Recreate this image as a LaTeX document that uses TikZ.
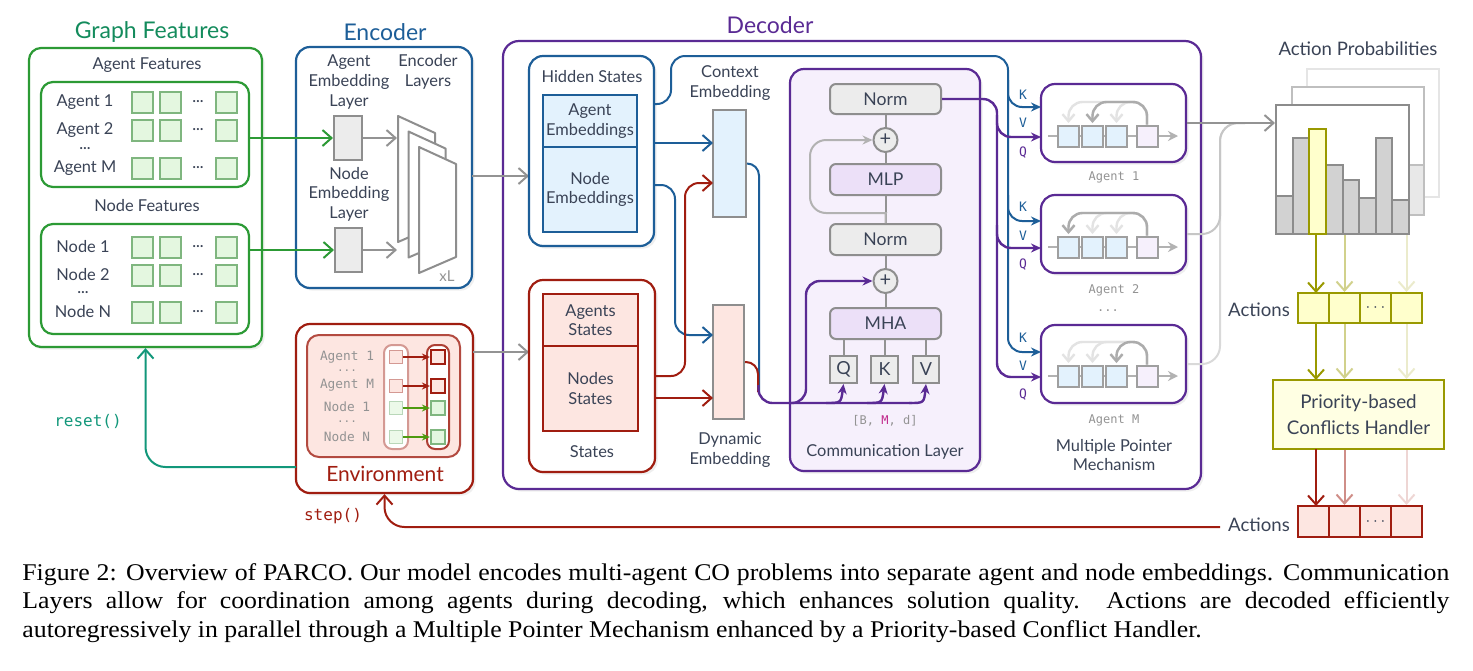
\documentclass[tikz,border=0pt]{standalone}
\usepackage{fontspec}
\setmainfont{Lato}
\setmonofont{DejaVu Sans Mono}
\newfontfamily\capfont[FakeStretch=1.075]{Liberation Serif}
\usetikzlibrary{arrows.meta,shadows}
\definecolor{txt}{HTML}{3A4356}
\definecolor{cgreen}{HTML}{2C9A35}
\definecolor{gtitle}{HTML}{138B5C}
\definecolor{gsqc}{HTML}{7FB67F}
\definecolor{gsqf}{HTML}{E4F7E0}
\definecolor{cblue}{HTML}{1D5E98}
\definecolor{lblue}{HTML}{E3F2FD}
\definecolor{cpurple}{HTML}{5A2A94}
\definecolor{lpurple}{HTML}{F6F0FC}
\definecolor{mpurple}{HTML}{ECE0F8}
\definecolor{cred}{HTML}{A01D10}
\definecolor{lred}{HTML}{FDE6E1}
\definecolor{cgray}{HTML}{8E8E8E}
\definecolor{lgray}{HTML}{ECECEC}
\definecolor{colive}{HTML}{999900}
\definecolor{lyel}{HTML}{FFFFCC}
\definecolor{lyel2}{HTML}{FFFFE3}
\definecolor{tealc}{HTML}{12977A}
\definecolor{magc}{HTML}{C0268A}
\definecolor{ngreen}{HTML}{4E9A10}
\tikzset{
 base/.style={inner sep=0pt, align=center},
 shad/.style={drop shadow={opacity=0.13, shadow xshift=1.3pt, shadow yshift=-1.3pt}},
 ttl/.style={font=\fontsize{11.5}{13}\selectfont},
 gbox/.style={base, draw=cgreen, line width=1.1pt, rounded corners=6pt, fill=white},
 gsq/.style={draw=gsqc, fill=gsqf, line width=1pt, minimum size=10.5pt, inner sep=0pt},
 bbox/.style={base, draw=cblue, line width=1.1pt, rounded corners=7pt, fill=white},
 embb/.style={base, draw=cgray, fill=lgray, line width=1pt},
 layb/.style={draw=cgray, fill=white, line width=1pt, line join=round},
 pbox/.style={base, draw=cpurple, line width=1.1pt, rounded corners=8pt, fill=white},
 binb/.style={base, draw=cblue, fill=lblue, line width=1pt},
 rbox/.style={base, draw=cred, line width=1.1pt, rounded corners=7pt, fill=white},
 rinb/.style={base, draw=cred, fill=lred, line width=1pt},
 cemb/.style={base, draw=cgray, fill=lblue, line width=1pt},
 demb/.style={base, draw=cgray, fill=lred, line width=1pt},
 clb/.style={base, draw=cpurple, fill=lpurple, line width=1.1pt, rounded corners=7pt},
 normb/.style={base, draw=cgray, fill=lgray, line width=1pt, rounded corners=3pt, font=\fontsize{8.8}{10}\selectfont},
 mlpb/.style={normb, fill=mpurple},
 qkvb/.style={base, draw=cgray, fill=lgray, line width=1pt, font=\fontsize{9}{10}\selectfont},
 plusc/.style={circle, draw=cgray, fill=lgray, line width=1pt, minimum size=12pt, inner sep=0pt, font=\fontsize{10}{10}\selectfont},
 ptb/.style={base, draw=cpurple, line width=1.1pt, rounded corners=7pt, fill=white},
 psq/.style={draw=gray!75, fill=lblue, line width=1pt, minimum size=10.5pt, inner sep=0pt},
 psqp/.style={psq, fill=lpurple},
 mono/.style={font=\ttfamily\fontsize{6}{7}\selectfont, text=gray!85, inner sep=1pt},
 kvq/.style={font=\ttfamily\fontsize{6.5}{7}\selectfont, inner sep=1pt},
 emono/.style={font=\ttfamily\fontsize{6.4}{7}\selectfont, text=gray!85, inner sep=0.3pt},
 edots/.style={font=\ttfamily\fontsize{5.5}{6}\selectfont, text=gray!85, inner sep=0.3pt},
 histb/.style={base, draw=gray!90, fill=white, line width=1pt},
 barb/.style={draw=gray!90, fill=gray!35, line width=1pt},
 ycell/.style={base, draw=colive, fill=lyel, line width=1pt},
 rcell/.style={base, draw=cred, fill=lred, line width=1pt},
 chb/.style={base, draw=colive, fill=lyel2, line width=1pt, font=\fontsize{9.4}{13}\selectfont},
 envin/.style={base, draw=cred!80, fill=lred, line width=1pt, rounded corners=6pt},
 colL/.style={base, draw=cred!45, fill=white, line width=1pt, rounded corners=4pt},
 colR/.style={base, draw=cred!85, fill=white, line width=1pt, rounded corners=4pt},
 esqLa/.style={draw=cred!45, fill=lred, line width=0.9pt, minimum size=6.5pt, inner sep=0pt},
 esqLn/.style={draw=gsqc!55, fill=gsqf!70, line width=0.9pt, minimum size=6.5pt, inner sep=0pt},
 esqRa/.style={draw=cred, fill=lred, line width=1.1pt, minimum size=7pt, inner sep=0pt},
 esqRn/.style={draw=gsqc, fill=gsqf, line width=1.1pt, minimum size=7pt, inner sep=0pt},
 earra/.style={draw=cred, line width=0.9pt, -{Stealth[length=4pt,width=3.5pt]}},
 earrn/.style={draw=ngreen, line width=0.9pt, -{Stealth[length=4pt,width=3.5pt]}},
 barbtip/.style={-{Straight Barb[length=4.5pt,width=8pt]}},
 gA/.style={draw=gray!85, line width=1pt, barbtip},
 grA/.style={draw=cgreen, line width=1pt, barbtip},
 blA/.style={draw=cblue, line width=1pt, barbtip},
 rdA/.style={draw=cred, line width=1pt, barbtip},
 blL/.style={draw=cblue, line width=1pt, rounded corners=7pt},
 rdL/.style={draw=cred, line width=1pt, rounded corners=7pt},
 puL/.style={draw=cpurple, line width=1.2pt, rounded corners=7pt},
 stl/.style={-{Stealth[length=5pt,width=4.5pt]}},
}
\newcommand\bx[7]{\node[#2, minimum width={(#5-#3)*0.5pt}, minimum height={(#6-#4)*0.5pt}] (#1) at ({(#3+#5)/2},{(#4+#6)/2}) {#7};}
\newcommand\dotsym{{\fontsize{7}{7}\selectfont\bfseries …}}
\begin{document}
\begin{tikzpicture}[x=0.5pt,y=-0.5pt, every node/.style={text=txt, align=center, font=\fontsize{8.2}{9.8}\selectfont}]
\useasboundingbox (0,0) rectangle (1473,670);

% ---------------- Graph features
\node[ttl, text=gtitle] (gft) at (152,32) {Graph Features};
\bx{gf}{gbox,shad}{29}{48}{262}{347}{}
\node (aft) at (147,65) {Agent Features};
\bx{ag}{gbox}{41}{82}{249}{187}{}
\foreach \yy/\nn/\lab in {102/a1/Agent 1,130/a2/Agent 2,168/am/Agent M}{
  \node (\nn-l) at (85,\yy) {\lab};
  \foreach \xx/\kk in {142/1,170/2,226/3}{\node[gsq] (\nn-s\kk) at (\xx,\yy) {};}
  \node (\nn-d) at (198,\yy) {\dotsym};
}
\node (adots) at (85,149) {\dotsym};
\node (nft) at (147,206) {Node Features};
\bx{nd}{gbox}{41}{224}{249}{334}{}
\foreach \yy/\nn/\lab in {247/n1/Node 1,275/n2/Node 2,312/nn/Node N}{
  \node (\nn-l) at (83,\yy) {\lab};
  \foreach \xx/\kk in {142/1,170/2,226/3}{\node[gsq] (\nn-s\kk) at (\xx,\yy) {};}
  \node (\nn-d) at (198,\yy) {\dotsym};
}
\node (ndots) at (83,293) {\dotsym};

% ---------------- Encoder
\node[ttl, text=cblue] (enct) at (385,32) {Encoder};
\bx{enc}{bbox,shad}{296}{47}{472}{288}{}
\node (aell) at (349,82) {Agent\\Embedding\\Layer};
\node (ell) at (428,72) {Encoder\\Layers};
\bx{aemb}{embb}{334}{116}{362}{160}{}
\node (nell) at (349,194) {Node\\Embedding\\Layer};
\bx{nemb}{embb}{335}{228}{362}{272}{}
\foreach \i in {0,1,2}{
  \draw[layb] ({398+10.5*\i},{116+15.5*\i}) -- ({435+10.5*\i},{133+15.5*\i}) -- ({435+10.5*\i},{226+15.5*\i}) -- ({398+10.5*\i},{242+15.5*\i}) -- cycle;}
\node[text=gray!85, font=\fontsize{7.5}{8}\selectfont] (xl) at (447,276) {xL};
\coordinate (lay1) at (397,138);
\coordinate (lay2) at (397,250);
\draw[grA] (ag.east |- aemb.west) -- (aemb.west);
\draw[grA] (nd.east |- nemb.west) -- (nemb.west);
\draw[gA] (aemb.east) -- (lay1);
\draw[gA] (nemb.east) -- (lay2);

% ---------------- Environment
\bx{env}{rbox,shad}{296}{324}{473}{493}{}
\bx{envi}{envin}{307}{335}{460}{457}{}
\bx{colLb}{colL}{384}{345}{408}{449}{}
\bx{colRb}{colR}{427}{345}{449}{449}{}
\foreach \yy/\kd in {357/a,386/a,408/n,437/n}{
  \node[esqL\kd] (el\yy) at (396,\yy) {};
  \node[esqR\kd] (er\yy) at (438,\yy) {};
  \draw[earr\kd] (el\yy) -- (er\yy);
}
\node[emono] (e1) at (347,357) {Agent 1};
\node[edots] (e2) at (347,371) {...};
\node[emono] (e3) at (347,385) {Agent M};
\node[emono] (e4) at (347,407) {Node 1};
\node[edots] (e5) at (347,422) {...};
\node[emono] (e6) at (347,437) {Node N};
\node[text=cred, font=\fontsize{10.5}{12}\selectfont] (envl) at (385,474) {Environment};
\node[text=cred, font=\ttfamily\fontsize{8}{9}\selectfont] (stepl) at (333,516) {step()};
\node[text=tealc, font=\ttfamily\fontsize{8}{9}\selectfont] (resetl) at (88,421) {reset()};
\coordinate (envR) at (296,467);
\draw[draw=tealc, line width=1pt, barbtip, rounded corners=10pt] (envR) -| (gf.south);

% ---------------- Decoder
\node[ttl, text=cpurple] (dect) at (770,25) {Decoder};
\bx{dec}{pbox,shad}{503}{41}{1201}{489}{}
\coordinate (encO) at (472,176);
\draw[gA] (encO) -- (529,176);
\coordinate (envO) at (473,352);
\draw[gA] (envO) -- (529,352);

\bx{hs}{bbox,shad}{529}{56}{654}{246}{}
\node (hsl) at (592,77) {Hidden States};
\bx{ae}{binb}{543}{95}{637}{147}{Agent\\Embeddings}
\bx{ne}{binb}{543}{147}{637}{232}{Node\\Embeddings}

\bx{st}{rbox,shad}{529}{280}{655}{472}{}
\bx{as}{rinb}{543}{294}{638}{346}{Agents\\States}
\bx{ns}{rinb}{543}{346}{638}{431}{Nodes\\States}
\node (stl) at (592,452) {States};

\node (cel) at (730,83) {Context\\Embedding};
\bx{ce}{cemb}{713}{110}{746}{217}{}
\bx{de}{demb}{713}{305}{744}{419}{}
\node (del) at (730,450) {Dynamic\\Embedding};

% communication layer
\bx{cl}{clb,shad}{790}{69}{980}{471}{}
\bx{n1}{normb}{830}{84}{941}{114}{Norm}
\node[plusc] (p1) at (885.5,140) {+};
\bx{mlp}{mlpb}{830}{164}{941}{195}{MLP}
\bx{n2}{normb}{830}{224}{941}{255}{Norm}
\node[plusc] (p2) at (885.5,281) {+};
\bx{mha}{mlpb}{830}{308}{941}{339}{MHA}
\bx{q}{qkvb}{830}{356}{857}{383}{Q}
\bx{k}{qkvb}{871}{356}{898}{383}{K}
\bx{v}{qkvb}{913}{356}{939}{383}{V}
\draw[draw=gray!85, line width=1pt] (n1) -- (p1) -- (mlp) -- (n2) -- (p2) -- (mha);
\draw[draw=gray!85, line width=1pt] (q.north |- mha.south) -- (q.north);
\draw[draw=gray!85, line width=1pt] (k.north |- mha.south) -- (k.north);
\draw[draw=gray!85, line width=1pt] (v.north |- mha.south) -- (v.north);
\draw[draw=gray!60, line width=1pt, stl, rounded corners=8pt] (n2.north) .. controls (885.5,213) .. (870,213) -- (810,213) -- (810,140) -- (p1.west);
\node[mono] (bmd) at (885,421) {[B, {\color{magc}M}, d]};
\node (cll) at (885,452) {Communication Layer};

% connectors hidden states / states -> embeddings
\coordinate (hsT) at (654,104);
\coordinate (hsA) at (654,143);
\coordinate (hsN) at (654,185);
\coordinate (stN) at (655,376);
\coordinate (stS) at (655,398);
\coordinate (ceA) at (713,143);
\coordinate (ceR) at (713,183);
\coordinate (deB) at (713,335);
\coordinate (deR) at (713,398);
\draw[blA] (hsA) -- (ceA);
\draw[blA, rounded corners=7pt] (hsN) -- (675,185) -- (675,335) -- (deB);
\draw[rdA, rounded corners=7pt] (stN) -- (685,376) -- (685,183) -- (ceR);
\draw[rdA] (stS) -- (deR);
\draw[blL, rounded corners=6pt] (ce.east) -- (759,163.5) -- (759,392);
\draw[rdL, rounded corners=6pt] (de.east) -- (758,362) -- (758,392);
\draw[puL] (758.5,385) -- (758.5,403) -- (912,403);
\draw[puL, stl] (790,403) -- (806,403) -- (806,281) -- (p2.west);
\draw[draw=cpurple, line width=1.2pt, stl] (826,403) .. controls (841,403) .. (q.south);
\draw[draw=cpurple, line width=1.2pt, stl] (867,403) .. controls (882,403) .. (k.south);
\draw[draw=cpurple, line width=1.2pt, stl] (909,403) .. controls (924,403) .. (v.south);

% pointer boxes
\foreach \i/\yt/\yb/\yc/\dx in {1/84/162/136/1092.5, 2/195/273/247/1068.5, 3/325/403/376/1116.5}{
  \bx{pt\i}{ptb,shad}{1041}{\yt}{1186}{\yb}{}
  \draw[draw=gray!60, line width=1pt, -{Stealth[length=5pt,width=5pt]}] (1048,\yc) -- (1178,\yc);
  \node[psq] (pt\i a) at (1068.5,\yc) {};
  \node[psq] (pt\i b) at (1092.5,\yc) {};
  \node[psq] (pt\i c) at (1116.5,\yc) {};
  \node[psqp] (pt\i d) at (1147,\yc) {};
  \foreach \xx in {1068.5,1092.5,1116.5}{
    \draw[draw=gray!22, line width=1.2pt, rounded corners=7pt, -{Straight Barb[length=3.5pt,width=6pt]}] (pt\i d.north) -- (1147,\yc-34) -- (\xx,\yc-34) -- (\xx,\yc-13);}
  \draw[draw=gray!65, line width=1.2pt, rounded corners=7pt, -{Straight Barb[length=3.5pt,width=6pt]}] (pt\i d.north) -- (1147,\yc-34) -- (\dx,\yc-34) -- (\dx,\yc-13);
}
\node[mono] (ag1) at (1114,177) {Agent 1};
\node[mono] (ag2) at (1114,290) {Agent 2};
\node[mono] (agd) at (1108,311) {...};
\node[mono] (agm) at (1114,420) {Agent M};
\node (mpm) at (1114,455) {Multiple Pointer\\Mechanism};

% K / V / Q connectors
\coordinate (kA1) at (1041,107); \coordinate (kA2) at (1041,221); \coordinate (kA3) at (1041,352);
\coordinate (vA1) at (1041,137); \coordinate (vA2) at (1041,248); \coordinate (vA3) at (1041,377);
\draw[blL, stl] (hsT) -- (671,104) -- (671,56) -- (1008,56) -- (1008,352) -- (kA3);
\draw[blL, stl] (1008,80) -- (1008,107) -- (kA1);
\draw[blL, stl] (1008,195) -- (1008,221) -- (kA2);
\draw[puL, stl] (n1.east) -- (997,99) -- (997,377) -- (vA3);
\draw[puL, stl] (997,115) -- (997,137) -- (vA1);
\draw[puL, stl] (997,225) -- (997,248) -- (vA2);
\node[kvq, text=cblue] (k1) at (1023,95) {K};
\node[kvq, text=cblue] (v1) at (1023,123) {V};
\node[kvq, text=cpurple] (q1) at (1023,153) {Q};
\node[kvq, text=cblue] (k2) at (1023,207) {K};
\node[kvq, text=cblue] (v2) at (1023,236) {V};
\node[kvq, text=cpurple] (q2) at (1023,265) {Q};
\node[kvq, text=cblue] (k3) at (1023,338) {K};
\node[kvq, text=cblue] (v3) at (1023,366) {V};
\node[kvq, text=cpurple] (q3) at (1023,395) {Q};

% ---------------- Action probabilities
\node[font=\fontsize{9.3}{11}\selectfont] (apl) at (1358,49) {Action Probabilities};
\draw[draw=gray!20, fill=white, line width=1pt] (1307,69) rectangle (1439,197);
\draw[draw=gray!50, fill=white, line width=1pt] (1292,87) rectangle (1424,215);
\draw[draw=gray!50, fill=gray!18, line width=1pt] (1409,165) rectangle (1424,215);
\bx{hist}{histb}{1276}{105}{1409}{234}{}
\foreach \i/\tp in {0/196,1/138,3/165,4/180,5/198,6/138,7/200}{
  \draw[barb] ({1276+\i*16.625},\tp) rectangle ({1276+(\i+1)*16.625},234);}
\draw[draw=colive, fill=lyel, line width=1pt] ({1276+2*16.625},129) rectangle ({1276+3*16.625},234);

\draw[draw=gray!30, line width=1pt, rounded corners=9pt] (pt3.east) -- (1220,364) -- (1220,123) -- (1245,123);
\draw[draw=gray!45, line width=1pt, rounded corners=9pt] (pt2.east) -- (1220,234) -- (1220,123) -- (1245,123);
\draw[gA] (pt1.east) -- (hist.west |- pt1.east);

\bx{ya1}{ycell}{1298}{293}{1329}{323}{}
\bx{ya2}{ycell}{1329}{293}{1360}{323}{}
\bx{ya3}{ycell}{1360}{293}{1391}{323}{$\cdots$}
\bx{ya4}{ycell}{1391}{293}{1422}{323}{}
\node[font=\fontsize{9.3}{11}\selectfont] (yact) at (1259,310) {Actions};
\draw[draw=colive, line width=1pt, barbtip] (1316,234) -- (1316,293);
\draw[draw=colive!45, line width=1pt, barbtip] (ya2.north |- hist.south) -- (ya2.north);
\draw[draw=colive!20, line width=1pt, barbtip] (ya4.north |- hist.south) -- (ya4.north);

\bx{ch}{chb}{1273}{380}{1444}{449}{Priority-based\\Conflicts Handler}
\draw[draw=colive, line width=1pt, barbtip] (1316,323) -- (1316,380);
\draw[draw=colive!45, line width=1pt, barbtip] (ya2.south) -- (ya2.south |- ch.north);
\draw[draw=colive!20, line width=1pt, barbtip] (ya4.south) -- (ya4.south |- ch.north);

\bx{ra1}{rcell}{1298}{506}{1329}{537}{}
\bx{ra2}{rcell}{1329}{506}{1360}{537}{}
\bx{ra3}{rcell}{1360}{506}{1391}{537}{$\cdots$}
\bx{ra4}{rcell}{1391}{506}{1422}{537}{}
\node[font=\fontsize{9.3}{11}\selectfont] (ract) at (1259,525) {Actions};
\draw[draw=cred, line width=1pt, barbtip] (1316,449) -- (1316,506);
\draw[draw=cred!50, line width=1pt, barbtip] (ch.south -| ra2.north) -- (ra2.north);
\draw[draw=cred!18, line width=1pt, barbtip] (ch.south -| ra4.north) -- (ra4.north);
\coordinate (ractW) at (1220,527);
\draw[draw=cred, line width=1pt, barbtip, rounded corners=10pt] (ractW) -| (env.south);

% ---------------- caption
\node[anchor=base west, inner sep=0pt, text=black, align=justify, font=\capfont\fontsize{12}{14.25}\selectfont] (cap) at (22,580) {\parbox[t]{713.5pt}{\hyphenpenalty=10000\exhyphenpenalty=10000 Figure 2: Overview of PARCO. Our model encodes multi-agent CO problems into separate agent and node embeddings. Communication Layers allow for coordination among agents during decoding, which enhances solution quality.\ \ Actions are decoded efficiently autoregressively in parallel through a Multiple Pointer Mechanism enhanced by a Priority-based Conflict Handler.}};
\end{tikzpicture}
\end{document}
